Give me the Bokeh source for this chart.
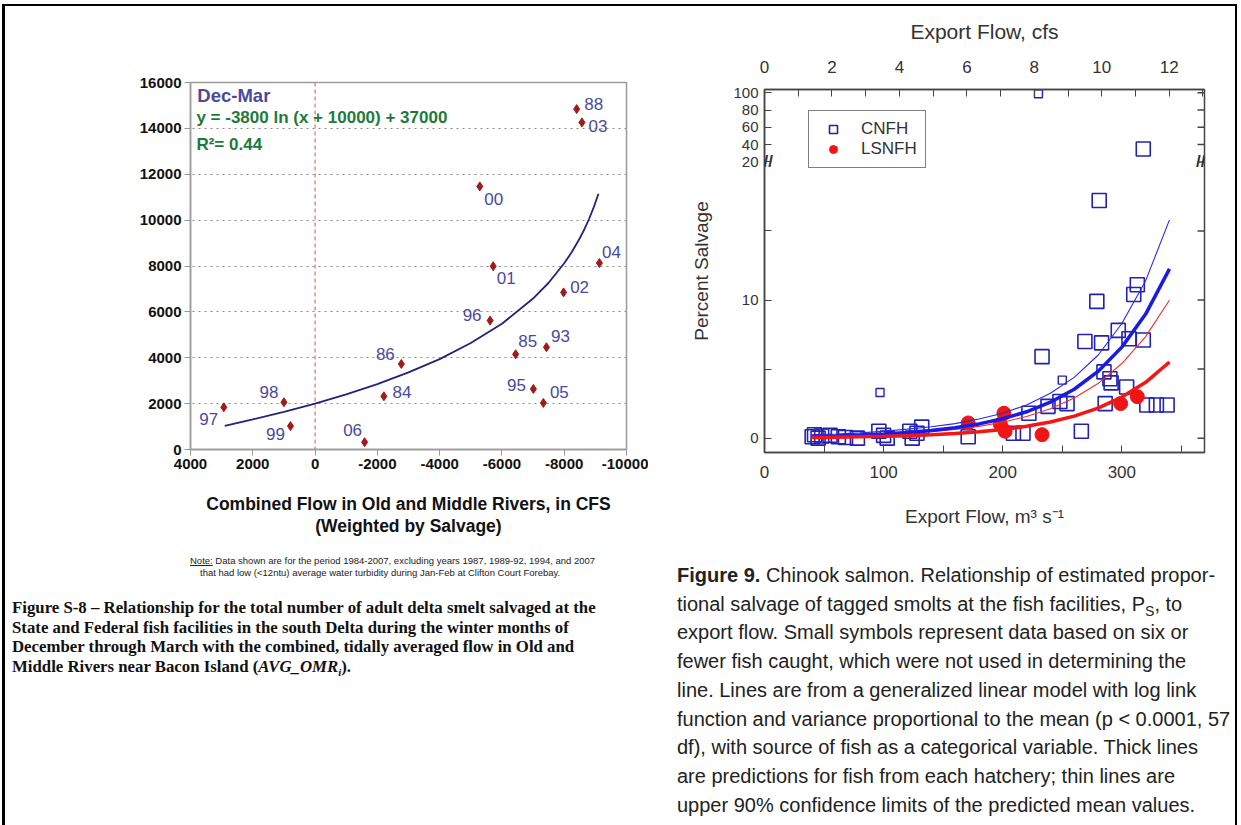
import math
from bokeh.plotting import figure
from bokeh.models import (Range1d, LinearAxis, FixedTicker, Span, Label, Legend,
                          LegendItem, ColumnDataSource, Div)
from bokeh.layouts import row, column
from bokeh.embed import file_html
from bokeh.resources import INLINE
from bokeh.core.properties import value

# ---------------- Left panel: adult delta smelt salvage vs OMR flow ----------------
smelt_year = ["97", "98", "99", "06", "84", "86", "96", "00", "01", "85", "93", "95", "05", "02", "04", "88", "03"]
smelt_omr = [2930, 1000, 790, -1590, -2210, -2770, -5620, -5290, -5720, -6440, -7430, -7010, -7330, -7980, -9130, -8400, -8570]
smelt_salvage = [1840, 2060, 1020, 320, 2320, 3730, 5620, 11470, 7990, 4150, 4460, 2640, 2030, 6850, 8130, 14840, 14260]
fit_omr = [2900, 2000, 1000, 0, -1000, -2000, -3000, -4000, -5000, -6000, -7000, -7500, -8000, -8250, -8500, -8650, -8800, -8950, -9100]
fit_salvage = [1030, 1310, 1640, 2000, 2400, 2850, 3360, 3940, 4640, 5480, 6580, 7270, 8120, 8620, 9210, 9610, 10060, 10570, 11150]
omr_ticks = [4000, 2000, 0, -2000, -4000, -6000, -8000, -10000]
salvage_ticks = [0, 2000, 4000, 6000, 8000, 10000, 12000, 14000, 16000]

# label placement (screen px offsets, + is down)
label_dx = [-15, -15, -15, -12, 18, -16, -18, 14, 13, 12, 14, -17, 16, 16, 12, 17, 16]
label_dy = [12, -10, 8, -12, -4, -10, -6, 13, 12, -13, -11, -4, -11, -5, -11, -5, 4]

# ---------------- Right panel: Chinook salmon percent salvage vs export flow ----------------
cnfh_flow = [40, 42, 45, 48, 55, 62, 68, 78, 96, 100, 103, 122, 124, 128, 132, 171, 209, 217, 222, 233,
             238, 248, 254, 266, 269, 279, 281, 283, 285, 286, 290, 291, 297, 304, 306, 310, 313, 318,
             321, 329, 338, 318]
cnfh_pct = [0.1, 0.25, 0.0, 0.15, 0.2, 0.1, 0.05, 0.0, 0.5, 0.2, 0.0, 0.5, 0.0, 0.35, 0.8, 0.1, 0.35, 0.35, 1.8, 5.9,
            2.3, 2.65, 2.5, 0.5, 7.0, 9.9, 17.2, 6.9, 4.8, 2.5, 4.3, 4.0, 7.8, 3.7, 7.2, 10.4, 11.1, 7.1,
            2.4, 2.4, 2.4, 35.0]
cnfh_few_flow = [97, 230, 250]
cnfh_few_pct = [3.3, 99.0, 4.2]
lsnfh_flow = [171, 198, 201, 202, 233, 299, 313]
lsnfh_pct = [1.1, 1.0, 1.8, 0.5, 0.25, 2.5, 3.0]
model_flow = [40, 60, 80, 100, 120, 140, 160, 180, 200, 220, 240, 260, 280, 300, 320, 340]
cnfh_fit = [0.12, 0.16, 0.22, 0.30, 0.41, 0.55, 0.75, 1.03, 1.40, 1.91, 2.60, 3.54, 4.83, 6.59, 8.98, 12.25]
cnfh_upper = [0.25, 0.30, 0.38, 0.50, 0.65, 0.82, 1.05, 1.38, 1.80, 2.40, 3.25, 4.40, 6.00, 8.30, 11.40, 15.80]
lsnfh_fit = [0.05, 0.07, 0.10, 0.13, 0.18, 0.25, 0.34, 0.46, 0.63, 0.86, 1.17, 1.59, 2.17, 2.97, 4.04, 5.51]
lsnfh_upper = [0.12, 0.15, 0.20, 0.26, 0.35, 0.46, 0.63, 0.85, 1.15, 1.57, 2.13, 2.90, 3.95, 5.40, 7.35, 10.0]
flow_ticks = [0, 100, 200, 300]
flow_minor = [50, 150, 250, 350]
cfs_ticks = [0, 2, 4, 6, 8, 10, 12]
cfs_minor = [1, 3, 5, 7, 9, 11, 13]
pct_ticks = [0, 10, 20, 40, 60, 80, 100]
pct_minor = [5, 15]
M3S_TO_KCFS = 0.0353147

BREAK = 20.0
UPPER_SCALE = 1.0 / 16.0


def brk(v):
    """Broken y axis: linear to 20, compressed above."""
    return v if v <= BREAK else BREAK + (v - BREAK) * UPPER_SCALE


FONT = "Liberation Sans"

# ============================ Left figure ============================
p1 = figure(frame_width=436, frame_height=367, min_border_left=190, min_border_right=22,
            min_border_top=82, min_border_bottom=91,
            x_range=Range1d(4000, -10000), y_range=Range1d(0, 16000),
            output_backend="svg", toolbar_location=None)
p1.border_fill_color = None
p1.outline_line_color = "#9a9a9a"
p1.outline_line_width = 1.5
p1.xgrid.visible = False
p1.ygrid.ticker = FixedTicker(ticks=salvage_ticks)
p1.ygrid.grid_line_color = "#8a8a8a"
p1.ygrid.grid_line_dash = "dotted"
p1.ygrid.grid_line_width = 1

xax1 = p1.below[0]
yax1 = p1.left[0]
xax1.ticker = FixedTicker(ticks=omr_ticks, minor_ticks=[])
xax1.major_label_overrides = {t: str(t) for t in omr_ticks}
yax1.ticker = FixedTicker(ticks=salvage_ticks, minor_ticks=[])
for ax in (xax1, yax1):
    ax.axis_line_color = "#9a9a9a"
    ax.axis_line_width = 1.5
    ax.major_tick_line_color = "#9a9a9a"
    ax.major_tick_in = 0
    ax.major_tick_out = 6
    ax.major_label_text_font = FONT
    ax.major_label_text_font_style = "bold"
    ax.major_label_text_font_size = "15px"
    ax.major_label_text_color = "#111111"
    ax.major_label_standoff = 3
xax1.axis_label = "Combined Flow in Old and Middle Rivers, in CFS\n(Weighted by Salvage)"
xax1.axis_label_text_font = FONT
xax1.axis_label_text_font_style = "bold"
xax1.axis_label_text_font_size = "17.5px"
xax1.axis_label_text_color = "#111111"
xax1.axis_label_standoff = 22
xax1.axis_label_text_line_height = 1.12

p1.add_layout(Span(location=0, dimension="height", line_color="#d9534f",
                   line_dash="4 3", line_width=1))

p1.line(fit_omr, fit_salvage, line_color="#23237d", line_width=1.8)
p1.scatter(smelt_omr, smelt_salvage, marker="diamond", size=9,
           fill_color="#a11a1a", line_color="#a11a1a")
src_lab = ColumnDataSource(dict(x=smelt_omr, y=smelt_salvage, t=smelt_year, dx=label_dx, dy=label_dy))
p1.text(x="x", y="y", text="t", x_offset="dx", y_offset="dy", source=src_lab,
        text_align="center", text_baseline="middle", text_font_size="17px",
        text_color="#4a4a9c", text_font=value(FONT))

p1.add_layout(Label(x=3780, y=15420, text="Dec-Mar", text_font=FONT, text_font_style="bold",
                    text_font_size="18.5px", text_color="#4a4a9c", text_baseline="middle"))
p1.add_layout(Label(x=3810, y=14460, text="y = -3800 ln (x + 10000) + 37000", text_font=FONT,
                    text_font_style="bold", text_font_size="17px", text_color="#1e7a3c",
                    text_baseline="middle"))
p1.add_layout(Label(x=3810, y=13290, text="R\u00b2= 0.44", text_font=FONT,
                    text_font_style="bold", text_font_size="17px", text_color="#1e7a3c",
                    text_baseline="middle"))
p1.add_layout(Label(x=7660, y=7580, text="Salvaged\nAdult\nDelta Smelt", text_font=FONT,
                    text_font_style="bold", text_font_size="17.5px", text_color="#111111",
                    text_align="center", text_baseline="middle", text_line_height=1.35))

# ============================ Right figure ============================
x_max = 369.4
p2 = figure(frame_width=440, frame_height=363, min_border_left=106, min_border_right=35,
            min_border_top=89, min_border_bottom=83,
            x_range=Range1d(0, x_max), y_range=Range1d(-1.04, 25.24),
            output_backend="svg", toolbar_location=None)
p2.border_fill_color = None
p2.extra_x_ranges = {"cfs": Range1d(0, x_max * M3S_TO_KCFS)}
p2.grid.visible = False
p2.outline_line_color = "#444444"
p2.outline_line_width = 1.5

xax2 = p2.below[0]
yax2 = p2.left[0]
top_ax = LinearAxis(x_range_name="cfs", ticker=FixedTicker(ticks=cfs_ticks, minor_ticks=cfs_minor))
p2.add_layout(top_ax, "above")

pct_pos = [float(brk(v)) for v in pct_ticks]
overrides = {pos: str(v) for pos, v in zip(pct_pos, pct_ticks)}
xax2.ticker = FixedTicker(ticks=flow_ticks, minor_ticks=flow_minor)
yax2.ticker = FixedTicker(ticks=pct_pos, minor_ticks=[float(v) for v in pct_minor])
yax2.major_label_overrides = overrides

for ax in (xax2, yax2, top_ax):
    ax.axis_line_color = "#444444"
    ax.axis_line_width = 1.5
    ax.major_tick_line_color = "#444444"
    ax.minor_tick_line_color = "#444444"
    ax.major_tick_in = 7
    ax.major_tick_out = 0
    ax.minor_tick_in = 7
    ax.minor_tick_out = 0
    ax.major_label_text_font = FONT
    ax.major_label_text_font_size = "17px"
    ax.major_label_text_color = "#333333"
    ax.axis_label_text_font = FONT
    ax.axis_label_text_font_style = "normal"
    ax.axis_label_text_color = "#333333"
yax2.major_label_text_font_size = "15px"
yax2.major_label_standoff = 6
yax2.axis_label = "Percent Salvage"
yax2.axis_label_text_font_size = "19px"
yax2.axis_label_standoff = 18
top_ax.axis_label = "Export Flow, cfs"
top_ax.axis_label_text_font_size = "21px"
top_ax.major_label_standoff = 17
top_ax.axis_label_standoff = 15
xax2.axis_label = "Export Flow, m\u00b3 s\u207b\u00b9"
xax2.axis_label_text_font_size = "19px"
xax2.major_label_standoff = 13
xax2.axis_label_standoff = 25

# inward tick marks along the right edge (mirror of the left axis)
right_tick_y = pct_pos + [float(v) for v in pct_minor]
p2.ray(x=[x_max] * len(right_tick_y), y=right_tick_y, length=7, length_units="screen",
       angle=math.pi, line_color="#444444", line_width=1.5)

sq = p2.scatter(cnfh_flow, [brk(v) for v in cnfh_pct], marker="square", size=14,
                fill_color=None, line_color="#2222b0", line_width=1.6)
p2.scatter(cnfh_few_flow, [brk(v) for v in cnfh_few_pct], marker="square", size=8,
           fill_color=None, line_color="#2222b0", line_width=1.4)
ci = p2.scatter(lsnfh_flow, [brk(v) for v in lsnfh_pct], marker="circle", size=14,
                fill_color="#f01515", line_color="#f01515")
p2.line(model_flow, cnfh_upper, line_color="#2a2ae0", line_width=1.1)
p2.line(model_flow, lsnfh_upper, line_color="#f03030", line_width=1.1)
p2.line(model_flow, cnfh_fit, line_color="#1a1ae6", line_width=3.5)
p2.line(model_flow, lsnfh_fit, line_color="#f51515", line_width=3.5)

# axis-break marks at y = 20 on both edges (kept inside the frame so they are not clipped)
p2.add_layout(Label(x=0, y=BREAK, text="//", text_align="left", text_baseline="middle",
                    x_offset=-1, text_font=FONT, text_font_size="17px", text_font_style="bold",
                    text_color="#333333"))
p2.add_layout(Label(x=x_max, y=BREAK, text="//", text_align="right", text_baseline="middle",
                    x_offset=1, text_font=FONT, text_font_size="17px", text_font_style="bold",
                    text_color="#333333"))

legend = Legend(items=[LegendItem(label="CNFH", renderers=[sq]),
                       LegendItem(label="LSNFH", renderers=[ci])],
                location=(44, 284), border_line_color="black", border_line_width=1.5,
                label_text_font=FONT, label_text_font_size="17px", label_text_color="#333333",
                padding=8, spacing=0, glyph_width=32, glyph_height=20, label_standoff=12,
                margin=0)
p2.add_layout(legend)

# ============================ Captions ============================
note_html = (
    "<div style=\"font-family:'Liberation Sans', Arial, sans-serif; font-size:9.5px; line-height:12px; "
    "color:#222; margin-top:10px; white-space:nowrap;\">"
    "<div style='margin-left:185px'><u>Note:</u> Data shown are for the period 1984-2007, excluding years "
    "1987, 1989-92, 1994, and 2007</div>"
    "<div style='margin-left:195px'>that had low (&lt;12ntu) average water turbidity during Jan-Feb at "
    "Clifton Court Forebay.</div></div>"
)
cap1_html = (
    "<div style=\"font-family:'Liberation Serif', 'Times New Roman', serif; font-weight:bold; "
    "font-size:16.8px; line-height:19.5px; color:#111; margin-top:-2px; padding-left:7px; "
    "white-space:nowrap;\">"
    "Figure S-8 \u2013 Relationship for the total number of adult delta smelt salvaged at the<br>"
    "State and Federal fish facilities in the south Delta during the winter months of<br>"
    "December through March with the combined, tidally averaged flow in Old and<br>"
    "Middle Rivers near Bacon Island (<i>AVG_OMR<span style='font-size:11px; position:relative; "
    "top:4px; line-height:0'>i</span></i>).</div>"
)
cap2_html = (
    "<div style=\"font-family:'Liberation Sans', Arial, sans-serif; font-size:20px; line-height:28.7px; "
    "color:#222; margin-top:21px; padding-left:14px; white-space:nowrap;\">"
    "<b>Figure 9.</b> Chinook salmon. Relationship of estimated propor-<br>"
    "tional salvage of tagged smolts at the fish facilities, P<span style='font-size:14px; "
    "position:relative; top:5px; line-height:0'>S</span>, to<br>"
    "export flow. Small symbols represent data based on six or<br>"
    "fewer fish caught, which were not used in determining the<br>"
    "line. Lines are from a generalized linear model with log link<br>"
    "function and variance proportional to the mean (p &lt; 0.0001, 57<br>"
    "df), with source of fish as a categorical variable. Thick lines<br>"
    "are predictions for fish from each hatchery; thin lines are<br>"
    "upper 90% confidence limits of the predicted mean values.</div>"
)
note_div = Div(text=note_html, width=648, height=45)
cap1_div = Div(text=cap1_html, width=648, height=100)
cap2_div = Div(text=cap2_html, width=581, height=280)

layout = row(column(p1, note_div, cap1_div), column(p2, cap2_div))
# page frame (thin black rule at left, top and right, as in the scanned page)
layout.styles = {
    "background": ("linear-gradient(#000,#000) 2px 4px / 3px 100% no-repeat, "
                   "linear-gradient(#000,#000) 2px 4px / 1235px 2px no-repeat, "
                   "linear-gradient(#000,#000) 1235px 4px / 2px 100% no-repeat, #fff")
}

open("out.html", "w").write(file_html(layout, INLINE))
